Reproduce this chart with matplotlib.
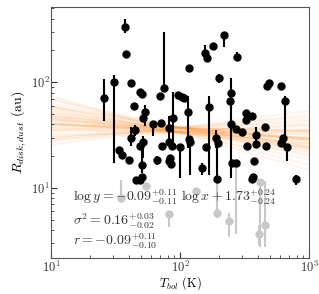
import numpy as np
import matplotlib
matplotlib.use("Agg")
import matplotlib.pyplot as plt

plt.rcParams["font.family"] = "serif"
plt.rcParams["font.serif"] = ["cmr10"]
plt.rcParams["mathtext.fontset"] = "cm"
plt.rcParams["axes.formatter.use_mathtext"] = True

# detected sources: T_bol (K), R_disk,dust (au), upper / lower end of error bar
t_bol = [25.8, 30.8, 37.5, 38.1, 41.7, 44.0, 49.0, 50.7, 53.5, 51.7,
         61.8, 71.2, 70.0, 75.2, 82.2, 88.3, 44.8, 41.7, 51.7, 49.0,
         33.7, 35.5, 40.2, 96.4, 103.7, 107.4, 115.3, 117.5, 156, 162,
         180, 219, 277, 200, 248, 244, 168, 248, 272, 303,
         325, 361, 325, 388, 456, 472, 490, 607, 651, 629,
         607, 464, 388, 330, 190, 197, 159, 119.6, 117.5, 100,
         82.2, 86.7, 72.5, 66.3, 82.2, 83.6, 85.1, 148, 194, 253,
         272, 375, 361, 368, 675, 793, 45.6, 49.0, 50.7, 50.7]
r_disk = [70.8, 100, 334, 187, 98, 59.7, 80.7, 77.3, 52.5, 46.1,
          40.5, 41.4, 74.0, 87.9, 37.2, 46.1, 35.6, 30.0, 27.5, 25.2,
          23.1, 20.3, 18.3, 75.6, 72.4, 70.8, 52.5, 138, 191, 168,
          222, 281, 175, 109, 78.9, 66.4, 58.4, 40.5, 36.4, 34.1,
          51.3, 48.1, 44.2, 32.0, 37.9, 91.8, 98, 91.8, 66.4, 30.0,
          26.4, 25.2, 25.8, 25.2, 30.0, 26.4, 24.2, 27.5, 29.3, 24.2,
          27.5, 25.2, 25.2, 18.3, 17.9, 19.1, 16.8, 15.4, 12.1, 17.1,
          17.1, 17.9, 12.1, 12.7, 24.2, 12.1, 11.9, 11.9, 12.7, 16.4]
r_hi = [107, 116, 396, 187, 98, 59.7, 80.7, 77.3, 61.0, 46.1,
        40.5, 41.4, 74.0, 300, 48.1, 80.7, 39.6, 37.9, 31.3, 25.2,
        23.1, 20.3, 18.3, 75.6, 72.4, 70.8, 74.0, 138, 226, 168,
        222, 281, 195, 119, 109, 66.4, 74.0, 59.7, 36.4, 34.1,
        51.3, 48.1, 44.2, 37.9, 37.9, 91.8, 98, 91.8, 74.0, 30.0,
        26.4, 25.2, 25.8, 25.2, 35.6, 26.4, 24.2, 28.7, 29.3, 24.2,
        27.5, 25.2, 25.2, 19.9, 17.9, 19.1, 16.8, 17.1, 29.3, 17.1,
        17.1, 17.9, 12.1, 12.7, 25.8, 13.2, 11.9, 11.9, 12.7, 29.3]
r_lo = [43.2, 17.1, 293, 187, 98, 59.7, 80.7, 77.3, 38.8, 46.1,
        31.3, 41.4, 74.0, 87.9, 27.5, 24.7, 31.3, 25.2, 19.1, 25.2,
        23.1, 20.3, 18.3, 75.6, 72.4, 70.8, 23.7, 138, 175, 168,
        222, 217, 164, 98, 55.9, 66.4, 13.2, 12.4, 36.4, 34.1,
        51.3, 48.1, 44.2, 25.2, 37.9, 91.8, 98, 91.8, 23.7, 30.0,
        26.4, 25.2, 25.8, 25.2, 23.7, 26.4, 24.2, 13.2, 29.3, 12.4,
        27.5, 25.2, 25.2, 16.4, 17.9, 19.1, 16.8, 13.2, 12.1, 17.1,
        17.1, 17.9, 12.1, 12.7, 17.9, 10.7, 11.9, 11.9, 12.7, 13.8]

# sources left out of the fit (grey)
t_grey = [34.9, 54.5, 82.2, 133, 194, 240, 417, 409, 456, 272]
r_grey = [8.06, 10.4, 5.72, 9.38, 5.84, 4.92, 11.4, 3.64, 4.51, 17.1]
r_grey_hi = [11.9, 10.4, 6.10, 9.38, 12.4, 5.84, 11.4, 4.42, 11.6, 17.1]
r_grey_lo = [8.06, 10.4, 4.23, 9.38, 5.20, 3.41, 2.75, 2.87, 2.75, 3.64]

# posterior draws of the linear fit in log space
slopes = [-0.09, -0.21, 0.03, -0.15, -0.02, -0.12, -0.27, 0.08, -0.05, -0.18,
          0.01, -0.10, -0.31, -0.07, 0.12, -0.14, -0.03, -0.23, 0.05, -0.11,
          -0.08, -0.19, -0.01, -0.13, 0.16, -0.06, -0.25, -0.04, 0.07, -0.16,
          -0.09, -0.20, 0.00, -0.12, -0.35, 0.10, -0.07, -0.17, -0.02, -0.11]
intercepts = [1.74, 1.95, 1.52, 1.83, 1.61, 1.78, 2.11, 1.40, 1.62, 1.93,
              1.50, 1.77, 2.15, 1.71, 1.33, 1.80, 1.63, 2.03, 1.44, 1.75,
              1.69, 1.96, 1.58, 1.84, 1.25, 1.66, 2.02, 1.65, 1.39, 1.88,
              1.70, 1.97, 1.54, 1.81, 2.22, 1.37, 1.68, 1.87, 1.57, 1.79]

fig = plt.figure(figsize=(3.19, 2.94), dpi=100)
ax = fig.add_axes([0.160, 0.122, 0.809, 0.854])

lx = np.linspace(1, 3, 50)
for b, a in zip(slopes, intercepts):
    ax.plot(10**lx, 10**(a + b * lx), color="#ff7f0e", alpha=0.09, lw=1.3, zorder=1)

r_grey = np.array(r_grey)
ax.errorbar(t_grey, r_grey,
            yerr=[r_grey - np.array(r_grey_lo), np.array(r_grey_hi) - r_grey],
            fmt="o", color="#c8c8c8", ms=5, elinewidth=1.5, capsize=0, zorder=2)

r_disk = np.array(r_disk)
ax.errorbar(t_bol, r_disk,
            yerr=[r_disk - np.array(r_lo), np.array(r_hi) - r_disk],
            fmt="o", color="black", ms=5, elinewidth=1.5, capsize=0, zorder=3)

ax.set_xscale("log")
ax.set_yscale("log")
ax.set_xlim(10, 1000)
ax.set_ylim(2.17, 515)
ax.set_xlabel(r"$T_{bol}$ (K)", fontsize=9)
ax.xaxis.set_label_coords(0.5, -0.066)
ax.set_ylabel(r"$R_{disk,dust}$ (au)", fontsize=10, labelpad=2)
ax.tick_params(which="both", direction="in", labelsize=9, colors="#333333", pad=1)
ax.tick_params(which="major", length=4)
ax.tick_params(which="minor", length=2)
for s in ax.spines.values():
    s.set_color("#555555")

kw = dict(transform=ax.transAxes, fontsize=10, color="#333333", zorder=4)
ax.text(0.085, 0.227, r"$\log y = -0.09^{+0.11}_{-0.11}\ \log x + 1.73^{+0.24}_{-0.24}$", **kw)
ax.text(0.085, 0.13, r"$\sigma^2 = 0.16^{+0.03}_{-0.02}$", **kw)
ax.text(0.085, 0.049, r"$r = -0.09^{+0.11}_{-0.10}$", **kw)

fig.savefig("out.png", dpi=100)
